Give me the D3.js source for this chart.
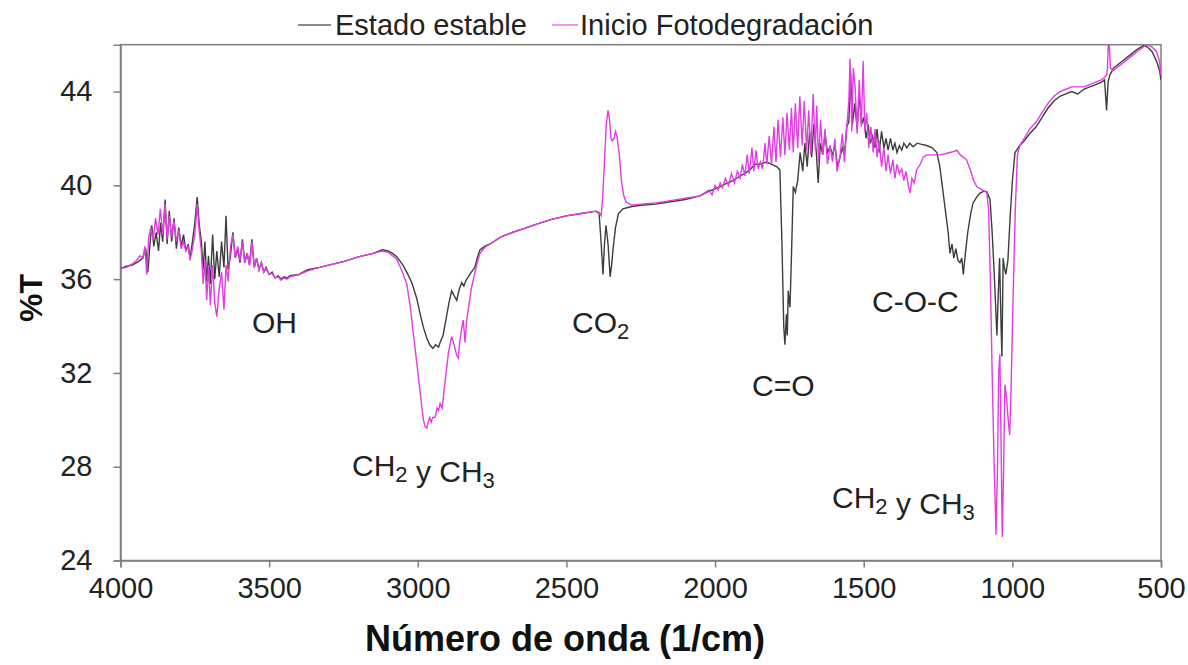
<!DOCTYPE html>
<html><head><meta charset="utf-8">
<script src="https://cdn.jsdelivr.net/npm/d3@7"></script>
<style>body{margin:0;background:#fff}svg{display:block}text{font-family:"Liberation Sans",Arial,sans-serif}</style>
</head><body><svg id="c" width="1188" height="665"></svg>
<script>
const xTicks = [4000,3500,3000,2500,2000,1500,1000,500];
const yTicks = [24,28,32,36,40,44];
const seriesNames = ["Estado estable","Inicio Fotodegradación"];

const wnStable = [4000,3980,3960,3940,3925,3915,3908,3900,3895,3888,3880,3872,3865,3858,3850,3843,3836,3828,3820,3812,3804,3796,3788,3780,3772,3766,3758,3750,3742,3735,3728,3722,3716,3710,3704,3698,3690,3683,3676,3668,3660,3652,3645,3638,3630,3622,3614,3606,3598,3590,3582,3574,3566,3558,3550,3542,3534,3526,3518,3510,3500,3490,3480,3470,3460,3450,3440,3430,3400,3370,3330,3300,3250,3200,3150,3120,3100,3085,3070,3050,3037,3020,3004,2990,2980,2970,2960,2949,2940,2930,2925,2915,2905,2895,2886,2878,2869,2860,2852,2845,2838,2830,2820,2808,2800,2791,2775,2757,2720,2680,2656,2600,2550,2500,2450,2400,2390,2383,2377,2372,2367,2360,2353,2348,2343,2335,2325,2310,2280,2250,2200,2150,2100,2051,2020,2000,1983,1960,1940,1916,1900,1880,1866,1850,1826,1810,1793,1782,1775,1769,1765,1760,1757,1754,1750,1748,1743,1737,1730,1722,1714,1705,1698,1690,1682,1675,1668,1660,1653,1646,1638,1630,1622,1613,1605,1597,1588,1580,1572,1565,1557,1550,1544,1538,1530,1522,1515,1507,1500,1492,1485,1478,1470,1462,1455,1448,1440,1432,1425,1418,1410,1402,1395,1388,1380,1372,1365,1355,1345,1334,1320,1305,1288,1270,1254,1244,1233,1222,1216,1210,1203,1197,1190,1183,1176,1170,1165,1158,1150,1140,1132,1120,1109,1095,1086,1075,1068,1062,1056,1052,1047,1043,1038,1035,1031,1027,1022,1015,1008,1000,991,975,960,942,920,900,880,860,840,820,800,780,760,740,720,700,690,683,678,672,660,640,620,600,580,560,545,530,515,505,500];
const tStable = [36.45,36.55,36.6,36.75,36.9,37.3,36.3,37.6,38.3,37.4,38.0,37.2,38.4,37.6,39.4,37.5,38.9,37.6,38.6,37.3,38.2,37.4,37.9,37.2,37.5,36.9,37.6,38.4,39.5,38.3,37.6,36.4,37.6,35.9,37.0,35.8,37.9,36.0,37.2,36.1,37.6,36.5,38.7,36.4,37.0,38.0,36.9,37.3,36.7,37.7,36.7,37.1,36.6,37.7,36.5,36.9,36.4,36.7,36.3,36.5,36.2,36.3,36.05,36.15,36.0,36.1,36.05,36.15,36.2,36.4,36.5,36.6,36.75,36.95,37.1,37.25,37.2,37.1,36.95,36.6,36.3,35.85,35.2,34.4,33.9,33.5,33.2,33.05,33.2,33.1,33.3,33.6,34.3,35.0,35.5,35.3,35.1,35.6,35.85,35.7,35.95,36.1,36.3,36.5,36.9,37.25,37.4,37.5,37.8,38.0,38.1,38.35,38.55,38.7,38.8,38.9,38.8,37.5,36.2,37.5,38.3,37.5,36.1,36.6,37.3,38.2,38.8,39.0,39.1,39.15,39.2,39.3,39.4,39.55,39.75,39.85,39.95,40.1,40.2,40.4,40.5,40.7,40.9,40.9,41.0,40.9,40.8,40.66,37.5,34.0,33.2,34.5,33.6,35.5,35.0,34.8,37.0,39.95,39.7,40.2,41.4,40.6,41.8,40.8,42.3,41.2,42.6,41.5,40.1,41.8,41.3,42.2,41.4,41.65,41.3,41.7,40.8,41.2,41.6,41.3,42.5,42.7,44.8,42.6,43.5,42.4,43.9,42.6,42.9,42.0,42.6,41.8,42.1,41.6,42.4,41.4,42.3,41.6,42.0,41.5,42.0,41.5,41.8,41.4,41.7,41.5,41.8,41.6,41.8,41.65,41.8,41.75,41.7,41.6,41.4,40.8,39.7,38.6,38.0,37.1,37.5,36.9,37.3,36.8,36.7,36.9,36.2,37.1,38.0,38.8,39.25,39.5,39.67,39.75,39.73,39.4,38.0,36.5,34.8,33.6,35.5,36.9,34.0,32.7,36.9,36.5,36.2,36.8,38.5,40.2,41.4,41.7,41.9,42.2,42.5,42.9,43.3,43.6,43.8,43.9,44.0,43.9,44.1,44.2,44.3,44.4,44.5,43.2,44.4,44.7,45.0,45.2,45.4,45.6,45.8,45.95,45.9,45.7,45.3,44.9,44.5];

const wnPhoto = [4000,3980,3960,3945,3935,3925,3918,3912,3905,3898,3890,3882,3874,3866,3858,3850,3843,3836,3828,3820,3812,3804,3796,3788,3780,3772,3766,3758,3750,3742,3735,3728,3722,3716,3710,3704,3698,3690,3683,3676,3668,3660,3652,3645,3638,3630,3622,3614,3606,3598,3590,3582,3574,3566,3558,3550,3542,3534,3526,3518,3510,3500,3490,3480,3470,3460,3450,3440,3430,3400,3370,3330,3300,3250,3200,3150,3120,3100,3085,3071,3055,3037,3025,3016,3005,2993,2985,2981,2975,2970,2965,2960,2955,2950,2942,2935,2930,2925,2918,2912,2905,2897,2890,2886,2878,2870,2864,2858,2852,2847,2841,2836,2830,2820,2808,2800,2791,2775,2757,2720,2680,2656,2600,2550,2500,2450,2400,2390,2383,2378,2372,2366,2360,2355,2350,2345,2340,2335,2330,2322,2315,2308,2300,2280,2250,2200,2150,2100,2051,2020,2010,2000,1990,1983,1975,1965,1955,1945,1935,1925,1916,1908,1900,1892,1885,1876,1870,1862,1855,1848,1840,1832,1826,1818,1810,1802,1795,1788,1780,1772,1765,1758,1750,1743,1737,1730,1722,1715,1707,1700,1692,1685,1678,1670,1663,1658,1652,1645,1638,1630,1622,1613,1605,1597,1590,1580,1572,1565,1557,1550,1546,1540,1535,1529,1522,1515,1508,1502,1496,1490,1483,1476,1468,1462,1455,1448,1440,1432,1425,1418,1410,1402,1395,1388,1380,1372,1365,1358,1350,1344,1338,1330,1322,1310,1300,1288,1270,1244,1225,1210,1195,1187,1175,1165,1154,1140,1130,1120,1100,1086,1080,1074,1068,1062,1055,1050,1046,1042,1038,1034,1030,1025,1020,1014,1009,1004,998,990,983,975,960,942,920,900,880,860,840,820,800,780,760,740,720,700,690,683,680,676,670,660,640,620,600,580,560,545,530,515,505,500];
const tPhoto = [36.45,36.5,36.65,36.8,37.0,36.9,37.4,36.2,37.8,38.2,37.7,38.6,37.9,39.0,37.9,39.2,37.7,38.7,37.8,38.5,37.6,38.1,37.3,37.6,37.2,37.4,36.8,37.3,37.9,39.2,38.0,37.2,35.8,36.8,35.1,36.6,34.9,36.6,35.0,34.4,35.6,36.3,34.7,36.6,35.9,37.4,37.9,36.9,37.4,36.8,37.6,36.7,37.1,36.6,37.6,36.5,36.9,36.4,36.7,36.3,36.45,36.2,36.25,36.05,36.1,35.95,36.05,36.0,36.1,36.2,36.35,36.5,36.6,36.75,36.95,37.1,37.2,37.15,37.0,36.85,36.4,35.8,34.8,33.8,32.6,31.3,30.4,30.0,29.7,29.65,29.9,30.1,29.9,30.1,30.1,30.5,30.4,30.7,30.5,31.2,32.0,32.85,33.3,33.55,33.2,32.8,32.63,33.4,33.9,34.26,33.3,34.2,34.7,35.6,36.27,36.7,37.1,37.35,37.5,37.8,38.0,38.1,38.35,38.55,38.7,38.8,38.9,38.85,38.7,39.5,41.0,42.6,43.2,42.8,42.0,41.9,42.0,42.3,42.1,41.3,40.2,39.6,39.3,39.15,39.2,39.25,39.35,39.45,39.55,39.8,39.6,40.0,39.8,40.1,39.9,40.3,40.0,40.5,40.1,40.6,40.3,40.9,40.4,41.3,40.5,41.6,40.6,41.5,40.7,41.0,40.7,41.8,40.9,42.1,40.9,42.5,41.0,42.8,41.2,42.9,41.3,43.1,41.5,43.3,41.4,43.5,41.6,43.8,41.7,43.6,41.5,43.2,41.3,43.9,41.5,43.4,41.0,42.8,41.3,42.4,40.9,41.7,41.0,42.0,40.6,41.2,42.2,41.0,42.5,43.6,45.4,42.3,45.0,44.2,42.2,44.5,42.5,45.3,42.3,43.1,41.6,42.5,41.4,42.4,41.2,41.9,40.8,41.6,40.6,41.3,40.5,41.1,40.3,40.9,40.5,40.7,40.2,40.6,40.0,39.67,40.3,40.1,40.66,40.9,41.2,41.3,41.3,41.3,41.35,41.4,41.45,41.5,41.3,41.2,41.09,40.6,40.2,39.95,39.8,39.7,39.0,36.0,32.0,28.5,25.1,28.0,32.0,32.8,29.0,25.0,27.5,31.5,31.0,30.0,29.35,31.5,35.0,39.0,41.3,41.7,42.0,42.4,42.7,43.1,43.5,43.8,44.0,44.1,44.2,44.2,44.2,44.3,44.4,44.5,44.6,44.7,45.0,46.5,45.0,44.9,45.1,45.3,45.5,45.7,45.9,46.0,45.9,45.7,45.3,44.7,44.3];

const W=1188,H=665;
const L=120.5,R=1161,T=44.7,B=560.5;
const svg=d3.select("#c");
const x=d3.scaleLinear().domain([4000,500]).range([L,R]);
const y=d3.scaleLinear().domain([24,46]).range([B,T]);
const axisCol="#7f7f7f";

svg.append("defs").append("clipPath").attr("id","clip").append("rect")
  .attr("x",L).attr("y",T).attr("width",R-L).attr("height",B-T);

svg.append("rect").attr("x",L).attr("y",T).attr("width",R-L).attr("height",B-T)
  .attr("fill","none").attr("stroke",axisCol).attr("stroke-width",1.5);

const xAxis=svg.append("g").attr("transform",`translate(0,${B})`)
  .call(d3.axisBottom(x).tickValues(xTicks).tickSize(7).tickPadding(10).tickFormat(d3.format("d")));
const yAxis=svg.append("g").attr("transform",`translate(${L},0)`)
  .call(d3.axisLeft(y).tickValues(yTicks).tickSize(7).tickPadding(21).tickFormat(d3.format("d")));
[xAxis,yAxis].forEach(g=>{
  g.select(".domain").attr("stroke",axisCol).attr("stroke-width",1.5);
  g.selectAll(".tick line").attr("stroke",axisCol).attr("stroke-width",1.5);
  g.selectAll(".tick text").attr("fill","#222").style("font-size","29px");
});

const line=d3.line().x(d=>x(d[0])).y(d=>y(d[1]));
const stable=wnStable.map((w,i)=>[w,tStable[i]]);
const photo=wnPhoto.map((w,i)=>[w,tPhoto[i]]);
const gl=svg.append("g").attr("clip-path","url(#clip)");
gl.append("path").datum(stable).attr("d",line).attr("fill","none").attr("stroke","#3d3d3d").attr("stroke-width",1.4);
gl.append("path").datum(photo).attr("d",line).attr("fill","none").attr("stroke","#e23ce2").attr("stroke-width",1.4);

const lg=svg.append("g");
lg.append("line").attr("x1",298).attr("x2",331).attr("y1",25).attr("y2",25).attr("stroke","#8a8a8a").attr("stroke-width",2);
lg.append("text").attr("x",335).attr("y",35).text(seriesNames[0]).style("font-size","29px").attr("fill","#222");
lg.append("line").attr("x1",552).attr("x2",578).attr("y1",25).attr("y2",25).attr("stroke","#ee99ee").attr("stroke-width",2);
lg.append("text").attr("x",580).attr("y",35).text(seriesNames[1]).style("font-size","29px").attr("fill","#222");

svg.append("text").attr("x",565).attr("y",651).attr("text-anchor","middle")
  .style("font-size","36px").style("font-weight","bold").attr("fill","#111").text("Número de onda (1/cm)");
svg.append("text").attr("transform","translate(42,298) rotate(-90)").attr("text-anchor","middle")
  .style("font-size","32px").style("font-weight","bold").attr("fill","#111").text("%T");

function ann(xp,yp,parts){
  const t=svg.append("text").attr("x",xp).attr("y",yp).style("font-size","30px").attr("fill","#222");
  parts.forEach(p=>{
    if(p.sub){t.append("tspan").attr("dy",6).style("font-size","22px").text(p.s);
      t.append("tspan").attr("dy",-6).text("");}
    else t.append("tspan").text(p.s);
  });
}
ann(252,333,[{s:"OH"}]);
ann(352,476,[{s:"CH"},{s:"2",sub:1},{s:" y CH"},{s:"3",sub:1}]);
ann(572,333,[{s:"CO"},{s:"2",sub:1}]);
ann(752,396,[{s:"C=O"}]);
ann(872,312,[{s:"C-O-C"}]);
ann(832,508,[{s:"CH"},{s:"2",sub:1},{s:" y CH"},{s:"3",sub:1}]);
</script></body></html>
